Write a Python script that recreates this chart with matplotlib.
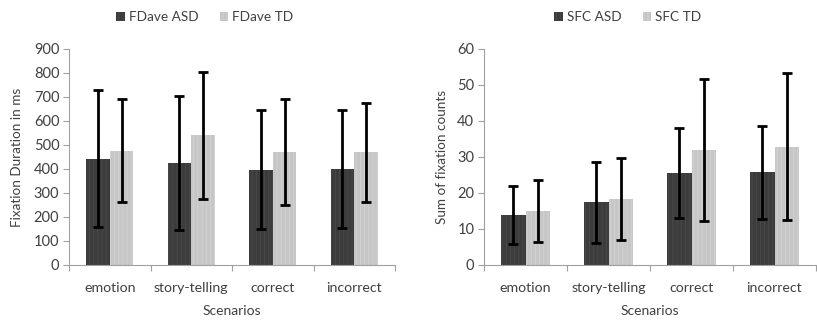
import matplotlib
matplotlib.use("Agg")
import matplotlib.pyplot as plt
import numpy as np
from matplotlib.patches import Patch

categories = ["emotion", "story-telling", "correct", "incorrect"]

fd_asd = [443, 424, 396, 399]
fd_asd_err = [285, 280, 248, 245]
fd_td = [476, 540, 471, 469]
fd_td_err = [214, 265, 220, 207]

sfc_asd = [13.9, 17.4, 25.6, 25.7]
sfc_asd_err = [8.0, 11.3, 12.5, 13.0]
sfc_td = [15.0, 18.3, 31.9, 32.9]
sfc_td_err = [8.7, 11.3, 19.7, 20.3]

plt.rcParams['font.family'] = ['Lato', 'DejaVu Sans']
plt.rcParams['hatch.linewidth'] = 0.6
TXT = '#404040'
DARK = '#3c3c3c'
LIGHT = '#c6c6c6'

fig = plt.figure(figsize=(8.17, 3.25), dpi=100)
ax1 = fig.add_axes([69/817, 60/325, 326/817, 216/325])
ax2 = fig.add_axes([484/817, 60/325, 332/817, 216/325])

def draw(ax, a, ae, t, te, ymax, step, ylabel, labels, legend_x, ylabel_x):
    x = np.arange(len(categories))
    w = 0.29
    ax.bar(x - w/2, a, w, color=DARK, edgecolor='#4a4a4a', hatch='||||', linewidth=0, zorder=2)
    ax.bar(x + w/2, t, w, color=LIGHT, edgecolor='#d4d4d4', hatch='||||', linewidth=0, zorder=2)
    ax.errorbar(x - w/2, a, yerr=ae, fmt='none', ecolor='black', elinewidth=2,
                capsize=3.6, capthick=2, zorder=3)
    ax.errorbar(x + w/2, t, yerr=te, fmt='none', ecolor='black', elinewidth=2,
                capsize=3.6, capthick=2, zorder=3)
    ax.set_xlim(-0.5, len(categories) - 0.5)
    ax.set_ylim(0, ymax)
    ax.set_yticks(np.arange(0, ymax + step/2, step))
    ax.set_xticks(x)
    ax.set_xticklabels(categories, fontsize=10.2, color=TXT)
    ax.set_xticks(np.arange(-0.5, len(categories)), minor=True)
    ax.tick_params(axis='x', which='major', length=0, pad=12)
    ax.tick_params(axis='x', which='minor', length=4, color='#a0a0a0', width=0.8)
    ax.tick_params(axis='y', length=4, color='#a0a0a0', width=0.8, labelsize=10.5,
                   labelcolor=TXT, pad=3)
    for s in ['top', 'right']:
        ax.spines[s].set_visible(False)
    for s in ['left', 'bottom']:
        ax.spines[s].set_color('#a0a0a0')
        ax.spines[s].set_linewidth(0.8)
    ax.set_ylabel(ylabel, fontsize=9.7, color=TXT)
    ax.yaxis.set_label_coords(ylabel_x, 0.5)
    ax.set_xlabel("Scenarios", fontsize=10, color=TXT, labelpad=8)
    handles = [Patch(facecolor=DARK, edgecolor='#4a4a4a', hatch='||||', linewidth=0),
               Patch(facecolor=LIGHT, edgecolor='#d4d4d4', hatch='||||', linewidth=0)]
    fig.legend(handles, labels, loc='center', bbox_to_anchor=(legend_x/817, 1 - 17/325),
               ncol=2, frameon=False, fontsize=9.8, labelcolor=TXT,
               handlelength=0.6, handleheight=0.6, handletextpad=0.3, columnspacing=1.6)

draw(ax1, fd_asd, fd_asd_err, fd_td, fd_td_err, 900, 100, "Fixation Duration in ms",
     ["FDave ASD", "FDave TD"], 205, (23 - 69) / 326)
draw(ax2, sfc_asd, sfc_asd_err, sfc_td, sfc_td_err, 60, 10, "Sum of fixation counts",
     ["SFC ASD", "SFC TD"], 628, (448 - 484) / 332)

fig.savefig("out.png", dpi=100)
